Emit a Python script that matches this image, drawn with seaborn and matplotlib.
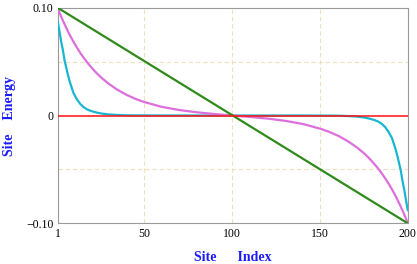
import matplotlib
matplotlib.use("Agg")
import matplotlib.pyplot as plt
import seaborn as sns
import pandas as pd

# === DATA ===
sites_line = [1, 200]
energy_green = [0.10, -0.10]
energy_red = [0.0, 0.0]

sites_curve = [1, 2, 3, 4, 5, 6, 7, 8, 10, 12, 14, 16, 18, 20, 23, 26, 30, 35, 40, 45, 50,
               60, 70, 80, 90, 100,
               101, 111, 121, 131, 141, 151, 156, 161, 166, 171, 175, 178, 181, 183, 185,
               187, 189, 191, 193, 194, 195, 196, 197, 198, 199, 200]

energy_magenta = [0.1000, 0.0959, 0.0919, 0.0882, 0.0846, 0.0811, 0.0777, 0.0745, 0.0685,
                  0.0630, 0.0579, 0.0532, 0.0489, 0.0450, 0.0396, 0.0349, 0.0295, 0.0239,
                  0.0193, 0.0156, 0.0126, 0.0081, 0.0051, 0.0030, 0.0014, 0.0001,
                  -0.0001, -0.0014, -0.0030, -0.0051, -0.0081, -0.0126, -0.0156, -0.0193,
                  -0.0239, -0.0295, -0.0349, -0.0396, -0.0450, -0.0489, -0.0532, -0.0579,
                  -0.0630, -0.0685, -0.0745, -0.0777, -0.0811, -0.0846, -0.0882, -0.0919,
                  -0.0959, -0.1000]

energy_cyan = [0.088, 0.079, 0.069, 0.061, 0.051, 0.044, 0.037, 0.031, 0.021, 0.015,
               0.0105, 0.0075, 0.0055, 0.0042, 0.0028, 0.0018, 0.0010, 0.0005, 0.0002,
               0.0001, 0.0001, 0.0, 0.0, 0.0, 0.0, 0.0,
               0.0, 0.0, 0.0, 0.0, 0.0, -0.0001, -0.0001, -0.0002, -0.0005, -0.0010,
               -0.0018, -0.0028, -0.0042, -0.0055, -0.0075, -0.0105, -0.015, -0.021,
               -0.031, -0.037, -0.044, -0.051, -0.061, -0.069, -0.079, -0.088]

x_ticks = [1, 50, 100, 150, 200]
y_ticks = [-0.10, 0.0, 0.10]
y_tick_labels = ["\u22120.10", "0", "0.10"]
y_grid = [-0.05, 0.05]

# === STYLE ===
sns.set_theme(style="white")
plt.rcParams["font.family"] = ["Liberation Serif", "DejaVu Serif"]

colors = {"cyan": "#19b6d2", "magenta": "#dc6fdc", "green": "#2f8a1c", "red": "#ff1010"}

df = pd.concat([
    pd.DataFrame({"site": sites_curve, "energy": energy_cyan, "series": "cyan"}),
    pd.DataFrame({"site": sites_curve, "energy": energy_magenta, "series": "magenta"}),
    pd.DataFrame({"site": sites_line, "energy": energy_green, "series": "green"}),
    pd.DataFrame({"site": sites_line, "energy": energy_red, "series": "red"}),
], ignore_index=True)

fig = plt.figure(figsize=(4.17, 2.64), dpi=100)
ax = fig.add_axes([0.138, 0.154, 0.840, 0.817])

for name in ["cyan", "magenta", "green", "red"]:
    sub = df[df["series"] == name]
    sns.lineplot(data=sub, x="site", y="energy", color=colors[name],
                 linewidth=1.1 if name == "red" else 1.6, ax=ax, legend=False,
                 zorder=3, sort=False)

ax.set_xlim(1, 200)
ax.set_ylim(-0.10, 0.10)
ax.set_xticks(x_ticks)
ax.set_xticklabels([str(t) for t in x_ticks])
ax.set_yticks(y_ticks)
ax.set_yticklabels(y_tick_labels)
ax.set_yticks(y_grid, minor=True)

grid_kw = dict(color="#f2e0bc", linestyle=(0, (4, 2.5)), linewidth=0.8)
ax.xaxis.grid(True, which="major", **grid_kw)
ax.yaxis.grid(True, which="minor", **grid_kw)
ax.yaxis.grid(False, which="major")
ax.set_axisbelow(True)

for sp in ax.spines.values():
    sp.set_color("#9a9a9a")
    sp.set_linewidth(0.8)

ax.tick_params(which="both", direction="in", color="#9a9a9a", labelsize=8.5,
               labelcolor="black", pad=3)
ax.tick_params(which="major", length=3)
ax.tick_params(which="minor", length=2)

label_kw = dict(color="#1a1aff", fontweight="bold", fontsize=10)
ax.set_xlabel("Site      Index", labelpad=8, **label_kw)
ax.set_ylabel("Site    Energy", labelpad=7, **label_kw)

fig.savefig("out.png", dpi=100)
